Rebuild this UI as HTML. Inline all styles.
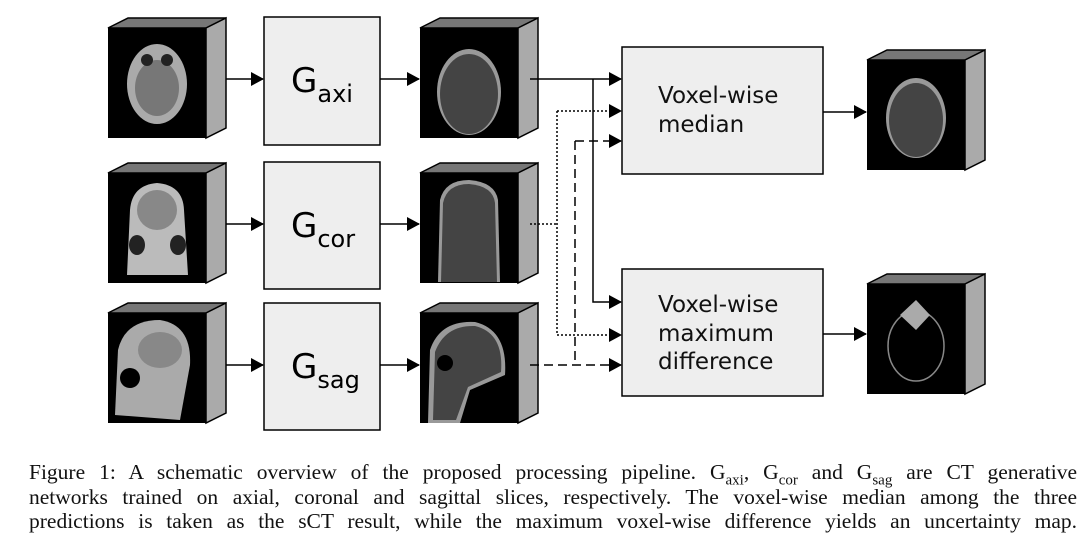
<!DOCTYPE html>
<html><head><meta charset="utf-8"><style>
html,body{margin:0;padding:0;background:#fff}
.cap{position:absolute;left:29px;width:1048px;font-family:"Liberation Serif",serif;font-size:21.5px;line-height:24.5px;text-align:justify;text-align-last:justify;color:#111;white-space:nowrap}
</style></head><body>
<div style="position:relative;width:1090px;height:554px;overflow:hidden">
<svg width="1090" height="554" style="position:absolute;left:0;top:0" font-family="'DejaVu Sans',sans-serif">
<defs>
<marker id="a" markerWidth="13" markerHeight="14" refX="12" refY="7" orient="auto" markerUnits="userSpaceOnUse"><path d="M0,0 L13,7 L0,14z" fill="#000"/></marker>
<g id="cube"><path d="M0,0 L98,0 L118,-10 L20,-10z" fill="#777" stroke="#000" stroke-width="1.5"/><path d="M98,0 L118,-10 L118,100 L98,110z" fill="#aaa" stroke="#000" stroke-width="1.5"/><rect x="0" y="0" width="98" height="110" fill="#000"/></g>
</defs>
<use href="#cube" x="108" y="28"/>
<ellipse cx="157" cy="84" rx="30" ry="40" fill="#aaa"/><ellipse cx="157" cy="88" rx="22" ry="28" fill="#777"/><ellipse cx="147" cy="60" rx="6" ry="6" fill="#222"/><ellipse cx="167" cy="60" rx="6" ry="6" fill="#222"/>
<use href="#cube" x="108" y="173"/>
<path d="M127,275 L130,210 Q132,185 157,183 Q183,185 184,210 L188,275z" fill="#bbb"/><ellipse cx="157" cy="210" rx="20" ry="20" fill="#888"/><ellipse cx="137" cy="245" rx="8" ry="10" fill="#222"/><ellipse cx="178" cy="245" rx="8" ry="10" fill="#222"/>
<use href="#cube" x="108" y="313"/>
<path d="M115,415 L118,350 Q125,320 160,320 Q192,325 190,365 L180,420z" fill="#aaa"/><ellipse cx="160" cy="350" rx="22" ry="18" fill="#888"/><circle cx="130" cy="378" r="10" fill="#000"/>
<use href="#cube" x="420" y="28"/>
<ellipse cx="469" cy="92" rx="32" ry="43" fill="#999"/><ellipse cx="469" cy="94" rx="29" ry="40" fill="#444"/>
<use href="#cube" x="420" y="173"/>
<path d="M438,282 L440,200 Q445,180 469,180 Q495,182 498,200 L500,282z" fill="#999"/><path d="M441,282 L443,203 Q447,184 469,184 Q493,186 495,203 L497,282z" fill="#444"/>
<use href="#cube" x="420" y="313"/>
<path d="M428,423 L430,350 Q440,320 475,322 Q508,330 505,375 L470,390 L460,423z" fill="#999"/><path d="M433,420 L435,352 Q445,325 475,326 Q504,333 501,372 L468,387 L456,420z" fill="#444"/><circle cx="445" cy="363" r="8" fill="#000"/>
<use href="#cube" x="867" y="60"/>
<ellipse cx="916" cy="118" rx="30" ry="40" fill="#999"/><ellipse cx="916" cy="120" rx="27" ry="37" fill="#444"/>
<use href="#cube" x="867" y="284"/>
<ellipse cx="916" cy="346" rx="28" ry="35" fill="none" stroke="#888" stroke-width="1.5"/><path d="M900,315 L916,300 L930,315 L916,330z" fill="#aaa"/>
<g fill="#eee" stroke="#000" stroke-width="1.5">
<rect x="264" y="17" width="116" height="128"/>
<rect x="264" y="162" width="116" height="127"/>
<rect x="264" y="303" width="116" height="127"/>
<rect x="622" y="47" width="201" height="127"/>
<rect x="622" y="269" width="201" height="127"/>
</g>
<g font-size="34" fill="#000">
<text x="291" y="92">G<tspan font-size="24" dy="10">axi</tspan></text>
<text x="291" y="237">G<tspan font-size="24" dy="10">cor</tspan></text>
<text x="291" y="378">G<tspan font-size="24" dy="10">sag</tspan></text>
</g>
<g font-size="23" fill="#111">
<text x="658" y="103">Voxel-wise</text><text x="658" y="132">median</text>
<text x="658" y="312">Voxel-wise</text><text x="658" y="341">maximum</text><text x="658" y="369">difference</text>
</g>
<g stroke="#000" stroke-width="1.5" fill="none">
<line x1="226" y1="79" x2="263" y2="79" marker-end="url(#a)"/>
<line x1="226" y1="224" x2="263" y2="224" marker-end="url(#a)"/>
<line x1="226" y1="365" x2="263" y2="365" marker-end="url(#a)"/>
<line x1="380" y1="79" x2="419" y2="79" marker-end="url(#a)"/>
<line x1="380" y1="224" x2="419" y2="224" marker-end="url(#a)"/>
<line x1="380" y1="365" x2="419" y2="365" marker-end="url(#a)"/>
<line x1="823" y1="112" x2="866" y2="112" marker-end="url(#a)"/>
<line x1="823" y1="334" x2="866" y2="334" marker-end="url(#a)"/>
<path d="M530,79 L621,79" marker-end="url(#a)"/>
<path d="M593,79 L593,302 L621,302" marker-end="url(#a)"/>
<g stroke-dasharray="2,2"><path d="M530,224 L557,224"/><path d="M557,111 L557,335"/><path d="M557,111 L621,111" marker-end="url(#a)"/><path d="M557,335 L621,335" marker-end="url(#a)"/></g>
<g stroke-dasharray="9,5"><path d="M530,365 L621,365" marker-end="url(#a)"/><path d="M575,141 L575,365"/><path d="M575,141 L621,141" marker-end="url(#a)"/></g>
</g>
</svg>
<div class="cap" style="top:460px;white-space:normal">Figure 1: A schematic overview of the proposed processing pipeline. G<sub style="font-size:15px">axi</sub>, G<sub style="font-size:15px">cor</sub> and G<sub style="font-size:15px">sag</sub> are CT generative</div>
<div class="cap" style="top:485px;white-space:normal">networks trained on axial, coronal and sagittal slices, respectively. The voxel-wise median among the three</div>
<div class="cap" style="top:509px;white-space:normal">predictions is taken as the sCT result, while the maximum voxel-wise difference yields an uncertainty map.</div>
</div>
</body></html>
